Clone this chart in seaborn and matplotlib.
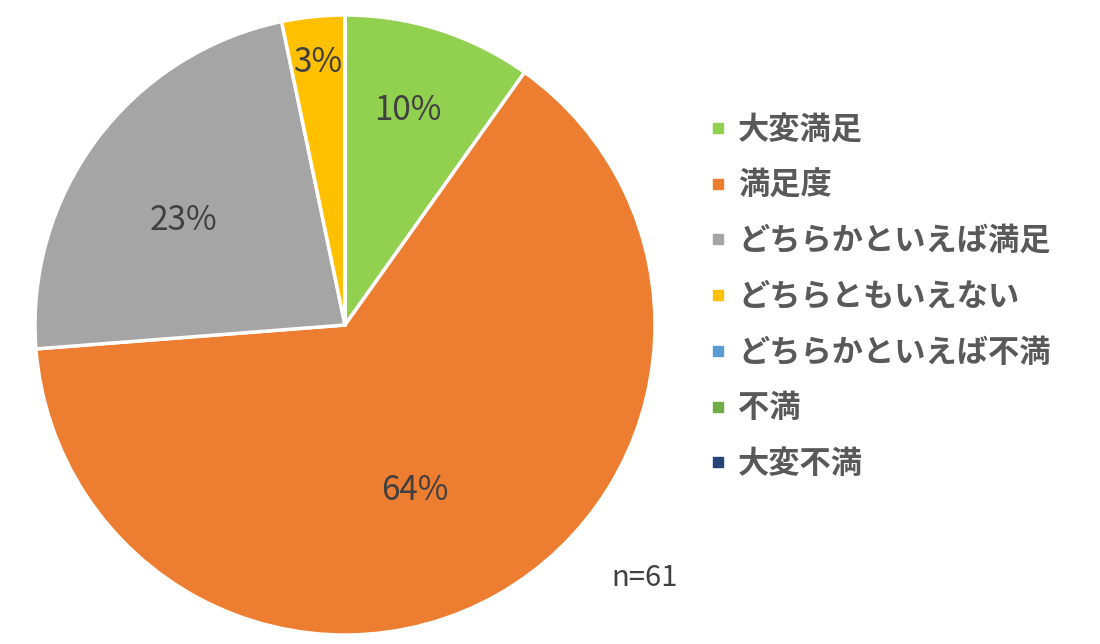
import numpy as np
import matplotlib
matplotlib.use("Agg")
import matplotlib.pyplot as plt
from matplotlib.lines import Line2D
import seaborn as sns

# Survey responses (n=61)
categories = ["大変満足", "満足度", "どちらかといえば満足", "どちらともいえない",
              "どちらかといえば不満", "不満", "大変不満"]
counts = [6, 39, 14, 2, 0, 0, 0]
colors = ["#92D050", "#ED7D31", "#A5A5A5", "#FFC000", "#5B9BD5", "#70AD47", "#264478"]
sample_note = "n=61"

# label placement: radial distance and angular nudge per slice
label_r = [0.72, 0.58, 0.62, 0.85, 0.7, 0.7, 0.7]
label_dtheta = [1.4, -6.5, 4.0, 0.0, 0, 0, 0]

sns.set_theme(style="white")
plt.rcParams["font.family"] = ["Noto Sans CJK JP", "DejaVu Sans"]

fig = plt.figure(figsize=(11, 6.44), dpi=100)
ax = fig.add_axes([35 / 1100, 9 / 644, 620 / 1100, 620 / 644])

total = sum(counts)
wedges, _ = ax.pie(counts, colors=colors, startangle=90, counterclock=False,
                   radius=1.0, wedgeprops=dict(edgecolor="white", linewidth=2.5))
ax.set_xlim(-1, 1)
ax.set_ylim(-1, 1)
ax.set_aspect("equal")

for i, w in enumerate(wedges):
    if counts[i] == 0:
        continue
    mid = np.deg2rad((w.theta1 + w.theta2) / 2 + label_dtheta[i])
    x, y = label_r[i] * np.cos(mid), label_r[i] * np.sin(mid)
    ax.text(x, y, f"{counts[i] / total * 100:.0f}%", ha="center", va="center",
            fontsize=24, color="#404040")

handles = [Line2D([], [], marker="s", linestyle="none", markersize=7.5,
                  markerfacecolor=c, markeredgecolor=c) for c in colors]
leg = fig.legend(handles, categories, loc="center left",
                 bbox_to_anchor=(696 / 1100, 1 - 297 / 644), frameon=False,
                 prop=dict(size=22.5, weight="bold"), labelcolor="#595959",
                 handlelength=0.6, handletextpad=0.35, labelspacing=0.76,
                 borderaxespad=0)

fig.text(645 / 1100, 1 - 578 / 644, sample_note, ha="center", va="center",
         fontsize=21, color="#404040")

fig.savefig("out.png", dpi=100)
